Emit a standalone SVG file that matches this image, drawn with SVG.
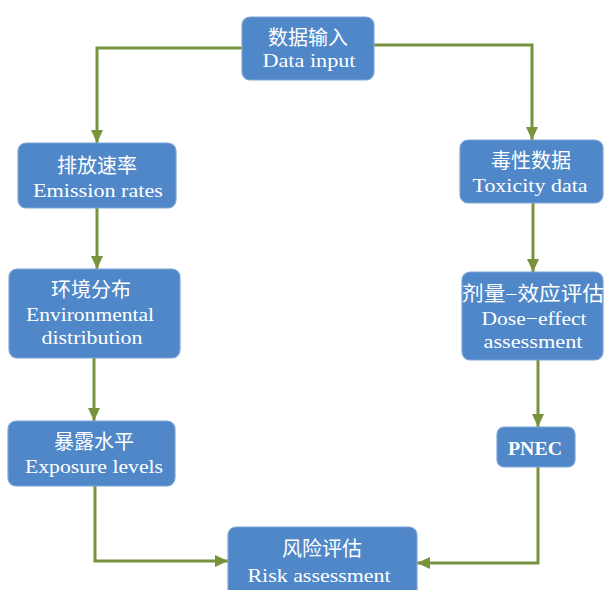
<svg xmlns="http://www.w3.org/2000/svg" width="605" height="590" viewBox="0 0 605 590">
<defs>
<marker id="arr" markerUnits="userSpaceOnUse" markerWidth="14" markerHeight="14" refX="13" refY="7" orient="auto">
<path d="M0,1 L13,7 L0,13 z" fill="#77933C"/>
</marker>
<style>
.box{fill:#4F87C8;stroke:#7FA6D6;stroke-width:1.2}
.zh{font-family:"Liberation Serif","Noto Sans CJK SC",serif;font-size:20px;fill:#fff;text-anchor:middle}
.en{font-family:"Liberation Serif","Noto Sans CJK SC",serif;font-size:19px;fill:#fff;text-anchor:middle}
.ln{fill:none;stroke:#77933C;stroke-width:3;marker-end:url(#arr)}
</style>
</defs>
<rect width="605" height="590" fill="#fff"/>
<g id="connectors">
<path class="ln" d="M242,48 H97 V143"/>
<path class="ln" d="M374,45 H532 V140"/>
<path class="ln" d="M97,208 V269"/>
<path class="ln" d="M94,358 V421"/>
<path class="ln" d="M95,486 V561 H228"/>
<path class="ln" d="M533,203 V272"/>
<path class="ln" d="M538,360 V427"/>
<path class="ln" d="M538,467 V563 H417"/>
</g>
<g id="data-input">
<rect class="box" x="242" y="17" width="132" height="63" rx="8"/>
<text class="zh" x="308" y="45">数据输入</text>
<text class="en" x="309" y="67" textLength="93" lengthAdjust="spacingAndGlyphs">Data input</text>
</g>
<g id="emission-rates">
<rect class="box" x="18" y="143" width="158" height="65" rx="8"/>
<text class="zh" x="97" y="173">排放速率</text>
<text class="en" x="98" y="197" textLength="130" lengthAdjust="spacingAndGlyphs">Emission rates</text>
</g>
<g id="toxicity-data">
<rect class="box" x="460" y="140" width="143" height="63" rx="8"/>
<text class="zh" x="531" y="168">毒性数据</text>
<text class="en" x="530" y="192" textLength="115" lengthAdjust="spacingAndGlyphs">Toxicity data</text>
</g>
<g id="environmental-distribution">
<rect class="box" x="9" y="269" width="171" height="89" rx="8"/>
<text class="zh" x="91" y="297">环境分布</text>
<text class="en" x="90" y="321" textLength="128" lengthAdjust="spacingAndGlyphs">Environmental</text>
<text class="en" x="92" y="344" textLength="101" lengthAdjust="spacingAndGlyphs">distribution</text>
</g>
<g id="dose-effect-assessment">
<rect class="box" x="462" y="272" width="141" height="88" rx="8"/>
<text class="zh" x="533" y="301" textLength="142" lengthAdjust="spacingAndGlyphs">剂量−效应评估</text>
<text class="en" x="534" y="325" textLength="105" lengthAdjust="spacingAndGlyphs">Dose−effect</text>
<text class="en" x="533" y="348" textLength="99" lengthAdjust="spacingAndGlyphs">assessment</text>
</g>
<g id="exposure-levels">
<rect class="box" x="8" y="421" width="167" height="65" rx="8"/>
<text class="zh" x="94" y="449">暴露水平</text>
<text class="en" x="94" y="473" textLength="138" lengthAdjust="spacingAndGlyphs">Exposure levels</text>
</g>
<g id="pnec">
<rect class="box" x="497" y="427" width="78" height="40" rx="7"/>
<text class="en" x="535" y="455" textLength="54" lengthAdjust="spacingAndGlyphs" font-weight="bold">PNEC</text>
</g>
<g id="risk-assessment">
<rect class="box" x="228" y="527" width="189" height="70" rx="8"/>
<text class="zh" x="322" y="556">风险评估</text>
<text class="en" x="319" y="582" textLength="143" lengthAdjust="spacingAndGlyphs">Risk assessment</text>
</g>
</svg>
